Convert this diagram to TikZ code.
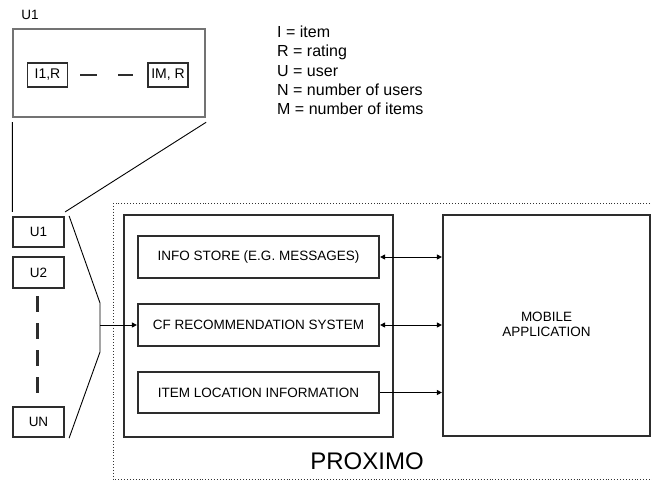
\documentclass[tikz,border=0pt]{standalone}
\usepackage{fontspec}
\setmainfont{Liberation Sans}
\usepackage{tikz}
\usetikzlibrary{positioning,arrows.meta,calc}
\definecolor{boxline}{RGB}{45,45,45}
\definecolor{zoomline}{RGB}{115,115,115}

\tikzset{
  blk/.style={draw=boxline,line width=2.2pt,inner sep=0pt,
    font=\fontsize{13.5}{16}\selectfont,align=center},
  userbox/.style={blk,minimum width=51pt,minimum height=30pt},
  entrybox/.style={draw=boxline,line width=1.6pt,inner sep=0pt,
    minimum width=40pt,minimum height=24pt,font=\fontsize{14}{16}\selectfont},
  modbox/.style={blk,minimum width=241pt,minimum height=42pt},
  link/.style={line width=0.9pt,black},
  tip/.style={-{Triangle[length=5pt,width=5pt]}}
}

\begin{document}
\begin{tikzpicture}[x=1pt,y=-1pt]
  \useasboundingbox (0,0) rectangle (652,480);
  \clip (0,0) rectangle (652,480);
  % zoomed view of one user row
  \node[draw=zoomline,line width=2.4pt,minimum width=192pt,minimum height=88pt] (zoom) at (109,73) {};
  \node[font=\fontsize{13.5}{16}\selectfont] (zoomlbl) at (30,15) {U1};
  \node[entrybox] (ione) at (47.5,75) {I1,R};
  \node[entrybox] (imr) at (168,75) {IM, R};
  \draw[boxline,line width=2.4pt,dash pattern=on 17pt off 21pt]
    ($(ione.east)+(12,0)$) -- ($(imr.west)+(-14,0)$);
  % legend
  \node[anchor=north west,align=left,inner sep=0pt,
    font=\fontsize{16}{19.2}\selectfont] (legend) at (277,26)
    {I = item\\R = rating\\U = user\\N = number of users\\M = number of items};
  % users column
  \node[userbox] (uone) at (38.5,232) {U1};
  \node[userbox,minimum height=31pt] (utwo) at (38.5,272.5) {U2};
  \node[userbox] (un) at (38.5,422) {UN};
  \draw[boxline,line width=3pt,dash pattern=on 16pt off 11pt]
    (37.5,296) -- (37.5,393);
  % zoom lines
  \draw[link] ($(zoom.south west)+(0.5,4)$) -- ($(uone.north west)+(0.5,-4)$);
  \draw[link] ($(zoom.south east)+(0,4)$) -- ($(uone.north east)+(0,-4)$);
  % bracket collecting the users
  \coordinate (btop) at (100,303);
  \coordinate (bbot) at (100,352);
  \coordinate (bmid) at (100,325);
  \draw[link] ($(uone.north east)+(4,0)$) -- (btop) -- (bbot) -- ($(un.south east)+(4,0)$);
  % PROXIMO region
  \draw[black!80,line width=0.9pt,dotted] (113,203) rectangle (700,479);
  \node[font=\fontsize{24}{28}\selectfont] (proximo) at (367,461) {PROXIMO};
  \node[blk,minimum width=269pt,minimum height=222pt] (core) at (258.5,326) {};
  \node[modbox] (info) at (258.5,257) {INFO STORE (E.G. MESSAGES)};
  \node[modbox] (cf) at (258.5,325) {CF RECOMMENDATION SYSTEM};
  \node[modbox,minimum height=41pt] (item) at (258.5,392.5) {ITEM LOCATION INFORMATION};
  \node[blk,minimum width=207pt,minimum height=221pt] (mobile) at (546.5,325.5)
    {\raisebox{4pt}{\begin{tabular}{@{}c@{}}MOBILE\\[-1pt]APPLICATION\end{tabular}}};
  % connectors
  \draw[link,tip] (bmid) -- (cf.west);
  \draw[link,{Triangle[length=5pt,width=5pt]}-{Triangle[length=5pt,width=5pt]}] (info.east) -- (info.east -| mobile.west);
  \draw[link,{Triangle[length=5pt,width=5pt]}-{Triangle[length=5pt,width=5pt]}] (cf.east) -- (cf.east -| mobile.west);
  \draw[link,tip] (item.east) -- (item.east -| mobile.west);
\end{tikzpicture}
\end{document}
